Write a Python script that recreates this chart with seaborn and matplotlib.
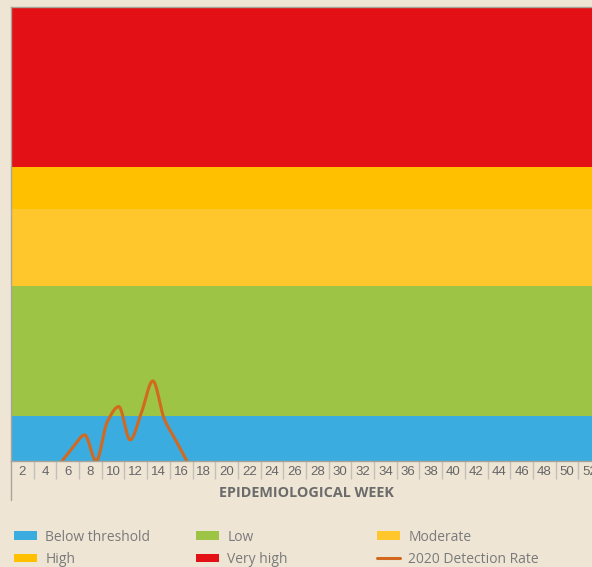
import numpy as np
import pandas as pd
import seaborn as sns
import matplotlib.pyplot as plt
from matplotlib.patches import Patch
from matplotlib.lines import Line2D

# data
weeks = [5.5, 6.5, 7.5, 8.5, 9.5, 10.5, 11.5, 12.5, 13.5, 14.5, 15.5, 16.5]
detection_rate = [0, 3.2, 5.8, 0, 8.8, 12.1, 4.7, 10.8, 17.8, 9.4, 4.7, 0]

level_names = ["Below threshold", "Low", "Moderate", "High", "Very high"]
level_edges = [0, 10, 39, 56, 65.5, 101]
level_colors = ["#3aace0", "#9dc445", "#ffc72c", "#ffc000", "#e31015"]
line_color = "#d2691e"
bg = "#eee5d5"
week_ticks = list(range(2, 53, 2))


def monotone_smooth(x, y, n=20):
    # monotone cubic (Fritsch-Carlson) for drawing a smooth line
    x = np.asarray(x, float)
    y = np.asarray(y, float)
    h = np.diff(x)
    d = np.diff(y) / h
    m = np.zeros_like(y)
    m[0], m[-1] = d[0], d[-1]
    for i in range(1, len(y) - 1):
        if d[i - 1] * d[i] > 0:
            m[i] = 2 / (1 / d[i - 1] + 1 / d[i])
    xs, ys = [], []
    for i in range(len(h)):
        t = np.linspace(0, 1, n, endpoint=False)
        h00 = 2 * t**3 - 3 * t**2 + 1
        h10 = t**3 - 2 * t**2 + t
        h01 = -2 * t**3 + 3 * t**2
        h11 = t**3 - t**2
        xs.append(x[i] + t * h[i])
        ys.append(h00 * y[i] + h10 * h[i] * m[i] + h01 * y[i + 1] + h11 * h[i] * m[i + 1])
    xs.append([x[-1]])
    ys.append([y[-1]])
    return np.concatenate(xs), np.concatenate(ys)


sns.set_theme(style="white")
plt.rcParams['font.family'] = ['Open Sans', 'DejaVu Sans']

fig = plt.figure(figsize=(5.92, 5.67), dpi=100, facecolor=bg)
ax = fig.add_axes([11 / 592, 1 - 461 / 567, 590 / 592, 454 / 567])
ax.set_facecolor(bg)

for lo, hi, c in zip(level_edges[:-1], level_edges[1:], level_colors):
    ax.axhspan(lo, hi, color=c, lw=0)

sx, sy = monotone_smooth(weeks, detection_rate)
df = pd.DataFrame({"week": sx, "rate": sy})
sns.lineplot(data=df, x="week", y="rate", ax=ax, color=line_color, lw=2.2,
             sort=False, estimator=None)

ax.set_xlim(1, 53)
ax.set_ylim(level_edges[0], level_edges[-1])
ax.set_yticks([])
ax.set_xticks(week_ticks)
ax.set_xticklabels([str(w) for w in week_ticks], family=['Liberation Sans Narrow', 'Liberation Sans'],
                   fontsize=9.5, color="#666666")
ax.set_xticks(list(range(3, 53, 2)), minor=True)
ax.tick_params(axis="x", which="major", length=0, pad=3.5)
ax.tick_params(axis="x", which="minor", bottom=True, length=13, width=1, color="#c4c0b8")
ax.set_xlabel("")
ax.set_ylabel("")

for side in ["top", "left", "bottom"]:
    ax.spines[side].set_color("#a8a49c")
    ax.spines[side].set_linewidth(1)
ax.spines["right"].set_visible(False)
ax.plot([0, 0], [-0.086, 0], transform=ax.transAxes, color="#a8a49c", lw=1, clip_on=False)

fig.text(306 / 592, 1 - 493 / 567, "EPIDEMIOLOGICAL WEEK", ha="center", va="center",
         fontsize=10.4, fontweight="bold", color="#6b6b6b")

handles = [Patch(color=c, lw=0) for c in level_colors]
handles.append(Line2D([], [], color=line_color, lw=2.2))
labels = level_names + ["2020 Detection Rate"]
order = [(0, 3), (1, 4), (2, 5)]
col_x = [14, 196, 377]
for (a, b), x0 in zip(order, col_x):
    fig.legend([handles[a], handles[b]], [labels[a], labels[b]],
               loc="center left", bbox_to_anchor=(x0 / 592, 1 - 548.3 / 567),
               frameon=False, fontsize=10, labelcolor="#7a7a7a",
               handlelength=1.65, handleheight=0.58, handletextpad=0.6,
               labelspacing=0.52, borderpad=0, borderaxespad=0)

fig.savefig("out.png", dpi=100, facecolor=bg)
